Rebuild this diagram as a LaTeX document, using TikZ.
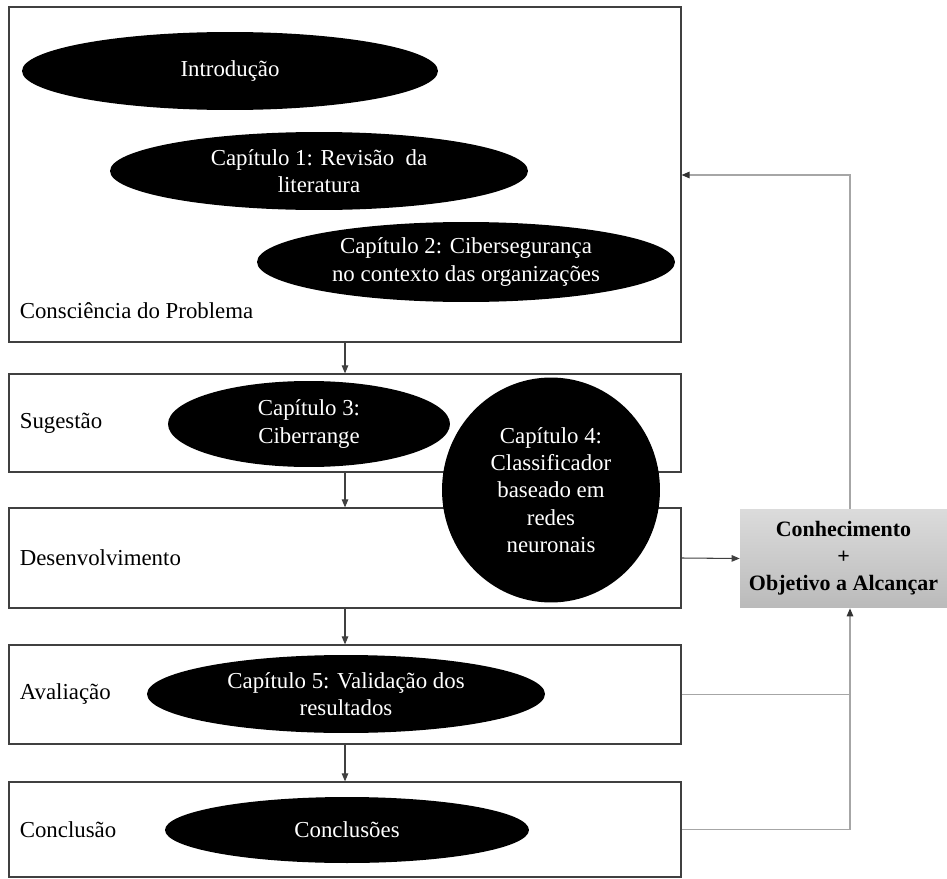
\documentclass[tikz,border=0pt]{standalone}
\usepackage{fontspec}
\setmainfont{Liberation Serif}
\usetikzlibrary{arrows.meta,positioning,shapes.geometric}

\begin{document}
\begin{tikzpicture}[x=0.02cm,y=-0.02cm,
          txt/.style={font=\fontsize{13}{15.5}\selectfont},
          stage/.style={rectangle,draw=black!75,line width=0.7pt,minimum width=13.44cm,inner sep=0pt},
          lbl/.style={txt,inner sep=0pt},
          chap/.style={ellipse,fill=black,text=white,txt,align=center,inner sep=0pt},
          flow/.style={draw=black!75,line width=0.6pt,-{Triangle[length=1.6mm,width=1.3mm]}},
          back/.style={draw=black!35,line width=0.7pt},
          goal/.style={rectangle,top color=black!14,bottom color=black!27,minimum width=4.14cm,
            minimum height=1.98cm,align=center,font=\fontsize{12.5}{15.3}\selectfont\bfseries}]
        \useasboundingbox (0,0) rectangle (947,879);
        \node[stage,minimum height=6.7cm] (b1) at (345,174.5) {};
        \node[stage,minimum height=1.96cm] (b2) at (345,423) {};
        \node[stage,minimum height=2cm] (b3) at (345,558) {};
        \node[stage,minimum height=1.98cm] (b4) at (345,694.5) {};
        \node[stage,minimum height=1.9cm] (b5) at (345,829.5) {};
        \node[lbl,above right=0.48cm and 0.22cm of b1.south west] (l1) {Consciência do Problema};
        \node[lbl,right=0.22cm of b2.west] (l2) {Sugestão};
        \node[lbl,right=0.22cm of b3.west] (l3) {Desenvolvimento};
        \node[lbl,right=0.22cm of b4.west] (l4) {Avaliação};
        \node[lbl,right=0.22cm of b5.west] (l5) {Conclusão};
        \node[chap,minimum width=8.32cm,minimum height=1.56cm] (intro) at (230,71) {Introdução};
        \node[chap,minimum width=8.36cm,minimum height=1.56cm] (cap1) at (319,171) {Capítulo 1: Revisão\ \ da\\literatura};
        \node[chap,minimum width=8.36cm,minimum height=1.6cm] (cap2) at (466,262) {Capítulo 2: Cibersegurança\\no contexto das organizações};
        \node[chap,minimum width=5.64cm,minimum height=1.72cm] (cap3) at (309,424) {Capítulo 3:\\Ciberrange};
        \node[chap,minimum width=4.36cm,minimum height=4.5cm] (cap4) at (551,490) {Capítulo 4:\\Classificador\\baseado em\\redes\\neuronais};
        \node[chap,minimum width=7.96cm,minimum height=1.56cm] (cap5) at (346,694) {Capítulo 5: Validação dos\\resultados};
        \node[chap,minimum width=7.28cm,minimum height=1.32cm] (concl) at (347,830) {Conclusões};
        \node[goal] (goal) at (843.5,558.5) {Conhecimento\\+\\Objetivo a Alcançar};
        \coordinate (fb) at (850,175);
        \draw[flow] (b1.south) -- (b2.north);
        \draw[flow] (b2.south) -- (b3.north);
        \draw[flow] (b3.south) -- (b4.north);
        \draw[flow] (b4.south) -- (b5.north);
        \draw[flow] (b3.east) -- (goal.west);
        \draw[back,-{Triangle[length=1.6mm,width=1.3mm,color=black!80]}] (goal.north -| fb) |- (b1.east |- fb);
        \draw[back] (b4.east) -- (b4.east -| fb);
        \draw[back,-{Triangle[length=1.6mm,width=1.3mm,color=black!80]}] (b5.east) -| (goal.south -| fb);
      \end{tikzpicture}
\end{document}
